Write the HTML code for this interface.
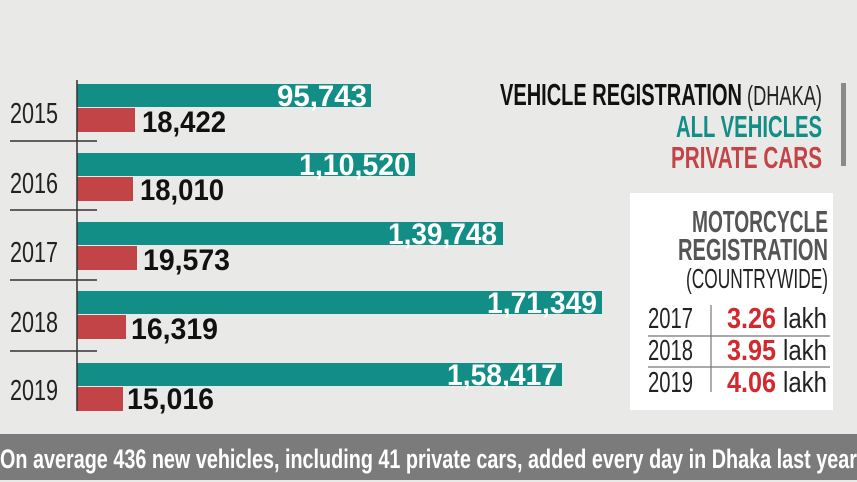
<!DOCTYPE html>
<html><head><style>html,body{margin:0;padding:0;background:#e9e9e8}svg{display:block}</style></head><body>
<svg width="857" height="482" xmlns="http://www.w3.org/2000/svg" font-family="Liberation Sans Narrow, Liberation Sans, sans-serif">
<rect width="857" height="482" fill="#e9e9e8"/>
<g fill="#138e87">
<rect x="77" y="84" width="294" height="23"/>
<rect x="77" y="153" width="338" height="23"/>
<rect x="77" y="222" width="426" height="23"/>
<rect x="77" y="291" width="525" height="23"/>
<rect x="77" y="363" width="485" height="23"/>
</g>
<g fill="#c24446">
<rect x="77" y="108" width="58" height="24"/>
<rect x="77" y="177" width="56" height="24"/>
<rect x="77" y="246" width="60" height="24"/>
<rect x="77" y="315" width="49" height="24"/>
<rect x="77" y="387" width="46" height="24"/>
</g>
<g stroke="#333" stroke-width="1.5">
<line x1="77" y1="80" x2="77" y2="411"/>
<line x1="10" y1="141" x2="97" y2="141"/>
<line x1="10" y1="210" x2="97" y2="210"/>
<line x1="10" y1="280" x2="97" y2="280"/>
<line x1="10" y1="351" x2="97" y2="351"/>
</g>
<g font-size="29" fill="#222">
<text x="10" y="123" textLength="48" lengthAdjust="spacingAndGlyphs">2015</text>
<text x="10" y="193" textLength="48" lengthAdjust="spacingAndGlyphs">2016</text>
<text x="10" y="262" textLength="48" lengthAdjust="spacingAndGlyphs">2017</text>
<text x="10" y="332" textLength="48" lengthAdjust="spacingAndGlyphs">2018</text>
<text x="10" y="400" textLength="48" lengthAdjust="spacingAndGlyphs">2019</text>
</g>
<g font-size="30" fill="#fff" font-weight="bold">
<text x="277" y="106" textLength="90" lengthAdjust="spacingAndGlyphs">95,743</text>
<text x="299" y="175" textLength="111" lengthAdjust="spacingAndGlyphs">1,10,520</text>
<text x="388" y="244" textLength="109" lengthAdjust="spacingAndGlyphs">1,39,748</text>
<text x="487" y="313" textLength="110" lengthAdjust="spacingAndGlyphs">1,71,349</text>
<text x="447" y="385" textLength="110" lengthAdjust="spacingAndGlyphs">1,58,417</text>
</g>
<g font-size="30" font-weight="bold" fill="#111">
<text x="142" y="132" textLength="84" lengthAdjust="spacingAndGlyphs">18,422</text>
<text x="140" y="200" textLength="84" lengthAdjust="spacingAndGlyphs">18,010</text>
<text x="143" y="270" textLength="87" lengthAdjust="spacingAndGlyphs">19,573</text>
<text x="131" y="339" textLength="87" lengthAdjust="spacingAndGlyphs">16,319</text>
<text x="127" y="409" textLength="87" lengthAdjust="spacingAndGlyphs">15,016</text>
</g>
<g font-size="31" font-weight="bold">
<text x="500" y="105" fill="#111" textLength="242" lengthAdjust="spacingAndGlyphs">VEHICLE REGISTRATION</text>
<text x="676" y="137" fill="#138e87" textLength="146" lengthAdjust="spacingAndGlyphs">ALL VEHICLES</text>
<text x="671" y="168" fill="#c24446" textLength="151" lengthAdjust="spacingAndGlyphs">PRIVATE CARS</text>
</g>
<text x="747" y="105" font-size="28" fill="#222" textLength="75" lengthAdjust="spacingAndGlyphs">(DHAKA)</text>
<rect x="841" y="83" width="5" height="83" fill="#8a8a8a"/>
<rect x="630" y="193" width="203" height="217" fill="#fff"/>
<g font-size="31" font-weight="bold" fill="#555">
<text x="692" y="232" textLength="136" lengthAdjust="spacingAndGlyphs">MOTORCYCLE</text>
<text x="678" y="260" textLength="150" lengthAdjust="spacingAndGlyphs">REGISTRATION</text>
</g>
<text x="686" y="288" font-size="28" fill="#222" textLength="142" lengthAdjust="spacingAndGlyphs">(COUNTRYWIDE)</text>
<g stroke="#777" stroke-width="1.2">
<line x1="648" y1="336" x2="830" y2="336"/>
<line x1="648" y1="367" x2="830" y2="367"/>
<line x1="711" y1="305" x2="711" y2="392"/>
</g>
<g font-size="29" fill="#222">
<text x="648" y="328" textLength="45" lengthAdjust="spacingAndGlyphs">2017</text>
<text x="648" y="360" textLength="45" lengthAdjust="spacingAndGlyphs">2018</text>
<text x="648" y="392" textLength="45" lengthAdjust="spacingAndGlyphs">2019</text>
<text x="783" y="328" textLength="44" lengthAdjust="spacingAndGlyphs">lakh</text>
<text x="783" y="360" textLength="44" lengthAdjust="spacingAndGlyphs">lakh</text>
<text x="783" y="392" textLength="44" lengthAdjust="spacingAndGlyphs">lakh</text>
</g>
<g font-size="29" font-weight="bold" fill="#d3282c">
<text x="727" y="328" textLength="49" lengthAdjust="spacingAndGlyphs">3.26</text>
<text x="727" y="360" textLength="49" lengthAdjust="spacingAndGlyphs">3.95</text>
<text x="727" y="392" textLength="49" lengthAdjust="spacingAndGlyphs">4.06</text>
</g>
<rect x="0" y="434" width="857" height="46" fill="#7b7b7b"/>
<text x="0" y="468" font-size="27" font-weight="bold" fill="#fff" textLength="857" lengthAdjust="spacingAndGlyphs">On average 436 new vehicles, including 41 private cars, added every day in Dhaka last year</text>
</svg>
</body></html>
